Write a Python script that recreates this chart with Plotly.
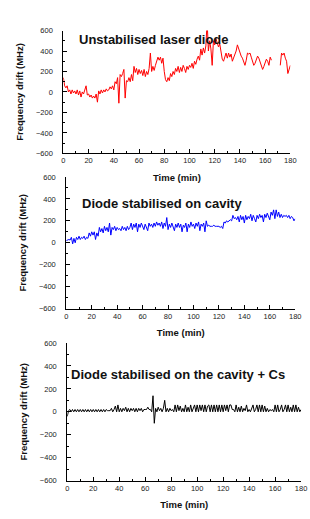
import plotly.graph_objects as go

time_min = list(range(0, 181))

unstabilised = [
    140, 60, 40, 60, 0, 20, -20, 20, -10, 10,
    -20, 20, -30, 10, -50, 0, -20, 20, 60, -30,
    -20, -50, -30, -60, -40, -60, -20, -100, 10, -20,
    20, -10, 20, 0, 30, 10, 20, 50, 30, 60,
    20, 100, 80, 140, -110, 170, 150, 180, 220, -60,
    110, 100, 140, 100, 170, 110, 250, 190, 230, 170,
    220, 180, 210, 160, 220, 150, 200, 170, 230, 380,
    200, 250, 210, 260, 300, 340, 310, 340, 280, 330,
    200, 120, 100, 140, 110, 180, 150, 200, 170, 230,
    200, 250, 190, 240, 200, 260, 230, 190, 250, 220,
    260, 240, 280, 230, 300, 270, 320, 350, 310, 420,
    360, 430, 380, 450, 690, 400, 500, 420, 260, 500,
    460, 520, 480, 440, 470, 380, 320, 300, 340, 380,
    330, 380, 340, 370, 300, 330, 360, 400, 460, 420,
    380, 350, 330, 290, 260, 310, 380, 370, 380, 340,
    300, 260, 280, 320, 350, 330, 290, 250, 220, 250,
    280, 320, 300, 260, 340, 310, None, None, None, None,
    None, None, 260, 380, 360, 380, 330, 300, 180, 230,
    260,
]

cavity = [
    20, 25, 30, 25, 50, -10, 40, 0, 50, 30,
    60, 30, 50, 40, 60, 30, 50, 40, 90, 60,
    100, 70, 100, 30, 90, 60, 140, 100, 130, 90,
    150, 110, 140, 100, 180, 70, 140, 120, 150, 110,
    140, 120, 130, 110, 150, 120, 140, 110, 150, 120,
    140, 180, 120, 170, 140, 180, 100, 170, 140, 180,
    150, 120, 170, 140, 110, 180, 150, 170, 140, 180,
    150, 190, 160, 180, 150, 190, 130, 180, 150, 230,
    120, 170, 140, 180, 140, 110, 170, 140, 180, 140,
    170, 100, 160, 140, 180, 100, 170, 140, 190, 150,
    170, 130, 180, 150, 190, 110, 170, 150, 180, 100,
    200, 150, 160, 150, 150, 150, 160, 150, 150, 150,
    150, 140, 150, 130, 190, 180, 200, 190, 200, 210,
    200, 250, 220, 230, 210, 240, 190, 250, 210, 240,
    180, 250, 210, 240, 220, 260, 200, 250, 220, 190,
    250, 220, 260, 230, 250, 190, 260, 230, 270, 240,
    210, 280, 250, 300, 220, 300, 240, 280, 230, 260,
    230, 250, 240, 250, 230, 250, 220, 240, 230, 200,
    220,
]

cavity_cs = [
    -40, 10, 20, 0, 20, 0, 20, 0, 20, 0,
    20, 0, 20, 0, 20, 0, 20, 0, 20, 0,
    20, 0, 20, 0, 20, 0, 20, 0, 20, 0,
    20, 10, 10, 10, 30, 0, 20, 50, 0, 60,
    0, 30, 0, 30, 10, 40, 0, 30, 0, 30,
    10, 30, 0, 30, 0, 30, 10, 30, 0, 20,
    20, 20, 40, 20, 20, 0, 140, -100, 30, 0,
    40, 10, 30, 0, 30, 100, 0, 30, 0, 30,
    10, 20, 0, 60, 0, 60, 10, 50, 0, 30,
    0, 60, 0, 40, 0, 60, 0, 30, 60, 0,
    60, 0, 60, 10, 60, 0, 60, 0, 50, 60,
    0, 60, 0, 60, 0, 60, 0, 60, 0, 60,
    0, 60, 10, 60, 0, 60, 60, 20, 20, 0,
    60, 0, 40, 0, 50, 0, 30, 10, 60, 0,
    20, 0, 30, 60, 0, 20, 60, 0, 60, 0,
    60, 0, 50, 0, 30, 0, 20, 10, 20, 0,
    60, 0, 60, 0, 20, 60, 0, 20, 60, 0,
    60, 0, 40, 0, 60, 0, 60, 0, 40, 0,
    20,
]

titles = [
    "Unstabilised laser diode",
    "Diode stabilised on cavity",
    "Diode stabilised on the cavity + Cs",
]
series = [unstabilised, cavity, cavity_cs]
colors = ["#ff0000", "#0000ff", "#000000"]

W, H = 310, 519
# pixel boxes: (x0, x1, ytop, ybottom)
boxes = [(63, 296, 27, 152), (66, 301, 176, 310), (67, 307, 345, 485)]
label_pos = [(156, 36), (164, 203), (181, 377)]

FONT = "Arial, Liberation Sans, sans-serif"
fig = go.Figure()

for i, (vals, col) in enumerate(zip(series, colors)):
    n = "" if i == 0 else str(i + 1)
    fig.add_trace(go.Scatter(
        x=time_min, y=vals, mode="lines",
        line=dict(color=col, width=1),
        xaxis="x" + n, yaxis="y" + n, showlegend=False,
        connectgaps=False, hoverinfo="skip",
    ))
    x0, x1, yt, yb = boxes[i]
    common = dict(
        showline=True, linecolor="black", linewidth=1,
        ticks="inside", ticklen=4, tickcolor="black", tickwidth=1,
        showgrid=False, zeroline=False,
        tickfont=dict(family=FONT, size=7.5, color="#222"),
    )
    fig.update_layout(**{
        "xaxis" + n: dict(
            domain=[x0 / W, x1 / W], range=[0, 180], dtick=20,
            anchor="y" + n,
            minor=dict(ticks="inside", ticklen=2, dtick=10, tickcolor="black"),
            title=dict(text="<b>Time (min)</b>", standoff=9,
                       font=dict(family=FONT, size=9.5, color="#111")),
            **common,
        ),
        "yaxis" + n: dict(
            domain=[1 - yb / H, 1 - yt / H], range=[-600, 600], dtick=200,
            anchor="x" + n, ticklabelstandoff=8,
            minor=dict(ticks="inside", ticklen=2, dtick=100, tickcolor="black"),
            title=dict(text="<b>Frequency drift (MHz)</b>", standoff=10,
                       font=dict(family=FONT, size=9.5, color="#111")),
            **common,
        ),
    })
    lx, ly = label_pos[i]
    fig.add_annotation(
        text="<b>" + titles[i] + "</b>", xref="paper", yref="paper",
        x=lx / W, y=1 - ly / H, showarrow=False, xanchor="center", yanchor="middle",
        font=dict(family=FONT, size=13, color="#111"),
    )

fig.update_layout(
    width=W, height=H, margin=dict(l=0, r=0, t=0, b=0),
    paper_bgcolor="white", plot_bgcolor="white",
)

fig.write_html(
    "out.html",
    config={"displayModeBar": False, "responsive": False},
    post_script=(
        "document.documentElement.style.margin='0';"
        "document.documentElement.style.overflow='hidden';"
        "document.body.style.margin='0';document.body.style.padding='0';"
        "document.body.style.overflow='hidden';"
        "var gd=document.getElementById('{plot_id}');"
        "Plotly.relayout(gd,{width:window.innerWidth,height:window.innerHeight});"
    ),
)
